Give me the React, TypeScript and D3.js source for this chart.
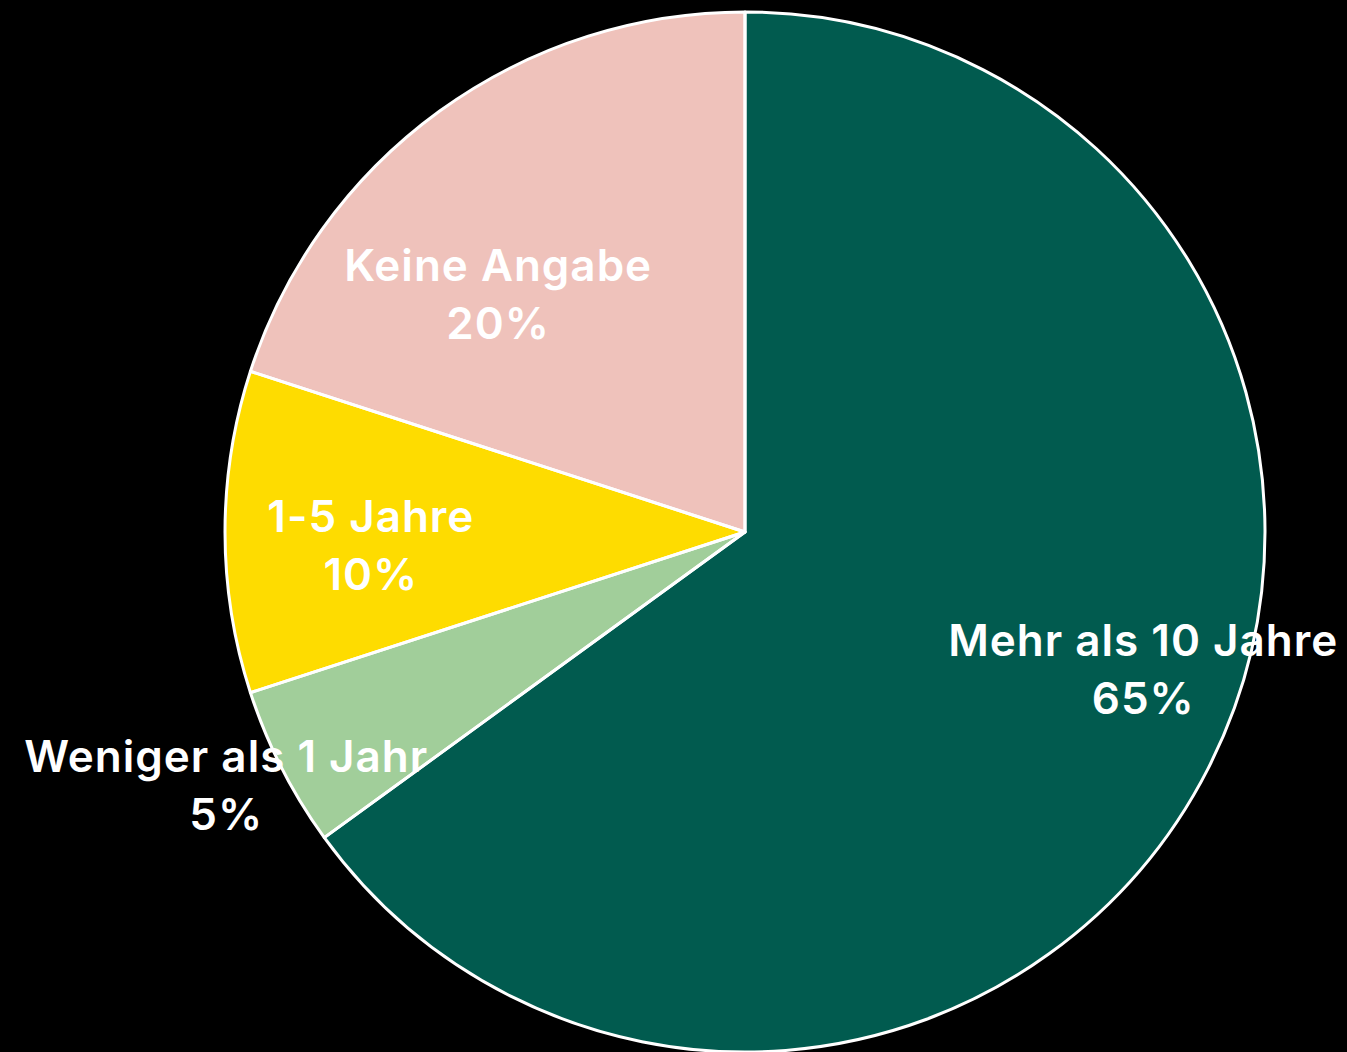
import { useEffect, useRef } from 'react';
import * as d3 from 'd3';

const categories = ['Mehr als 10 Jahre', 'Weniger als 1 Jahr', '1-5 Jahre', 'Keine Angabe'];
const shares = [65, 5, 10, 20];
const colors = ['#015b4f', '#a1ce9a', '#fedc00', '#efc2bb'];

// label placement tweaks: radius as fraction of pie radius, angle offset in degrees
const labelRadius = [0.81, 1.11, 0.72, 0.66];
const labelAngleShift = [-8, 1, -2, -10];

const WIDTH = 1347;
const HEIGHT = 1052;

interface Slice {
	name: string;
	value: number;
	color: string;
	lr: number;
	shift: number;
}

const PieChart: React.FC = () => {
	const svgRef = useRef<SVGSVGElement>(null);

	useEffect(() => {
		if (!svgRef.current) return;
		const svg = d3.select(svgRef.current);
		svg.selectAll('*').remove();

		const radius = 520;
		const cx = 745;
		const cy = 532;

		const data: Slice[] = categories.map((name, i) => ({
			name,
			value: shares[i],
			color: colors[i],
			lr: labelRadius[i],
			shift: labelAngleShift[i],
		}));

		const pie = d3
			.pie<Slice>()
			.value((d) => d.value)
			.sort(null);

		const arcs = pie(data);

		const arc = d3
			.arc<d3.PieArcDatum<Slice>>()
			.innerRadius(0)
			.outerRadius(radius);

		const g = svg.append('g').attr('transform', `translate(${cx}, ${cy})`);

		g.selectAll('path.fill')
			.data(arcs)
			.join('path')
			.attr('class', 'fill')
			.attr('d', arc)
			.style('fill', (d) => d.data.color);

		const labels = g
			.selectAll('text')
			.data(arcs)
			.join('text')
			.attr('text-anchor', 'middle')
			.style('font-family', 'Inter, "Open Sans", sans-serif')
			.style('font-weight', 600)
			.style('font-size', '44px')
			.style('letter-spacing', '1px')
			.style('fill', '#fff')
			.attr('transform', (d) => {
				const mid = (d.startAngle + d.endAngle) / 2 + (d.data.shift * Math.PI) / 180;
				const r = radius * d.data.lr;
				return `translate(${r * Math.sin(mid)}, ${-r * Math.cos(mid)})`;
			});

		labels
			.append('tspan')
			.attr('x', 0)
			.attr('y', -13)
			.text((d) => d.data.name);

		labels
			.append('tspan')
			.attr('x', 0)
			.attr('y', 45)
			.text((d) => `${d.data.value}%`);

		g.selectAll('path.edge')
			.data(arcs)
			.join('path')
			.attr('class', 'edge')
			.attr('d', arc)
			.style('fill', 'none')
			.style('stroke', '#fff')
			.style('stroke-width', 3)
			.style('stroke-linejoin', 'round');
	}, []);

	return <svg ref={svgRef} width={WIDTH} height={HEIGHT} style={{ display: 'block' }}></svg>;
};

export default function App() {
	useEffect(() => {
		document.body.style.margin = '0';
		document.body.style.background = '#000';
	}, []);
	return (
		<div style={{ position: 'absolute', left: 0, top: 0, width: WIDTH, height: HEIGHT, background: '#000' }}>
			<PieChart />
		</div>
	);
}
